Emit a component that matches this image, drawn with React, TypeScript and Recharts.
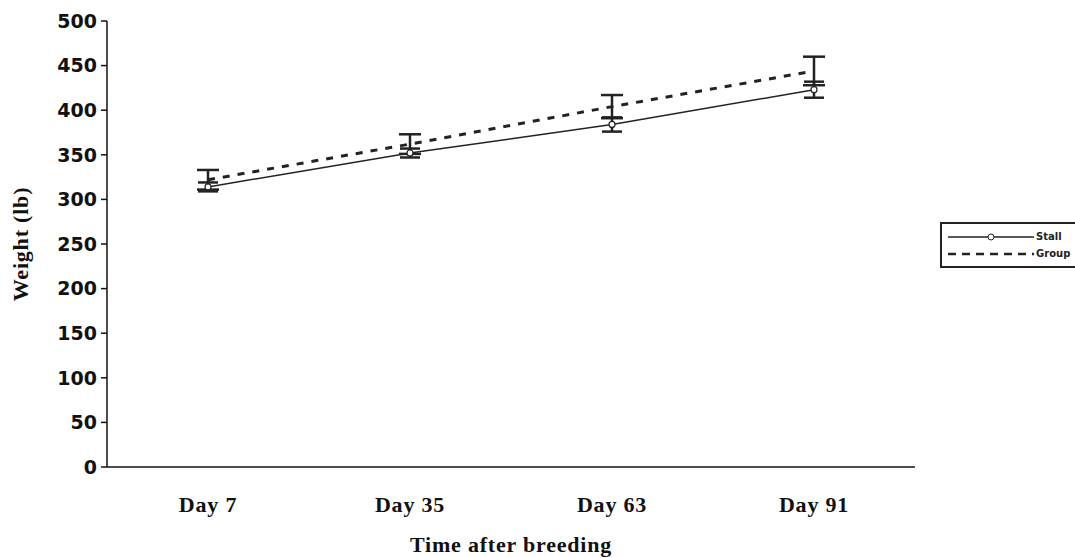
import { LineChart, Line, XAxis, YAxis, ErrorBar } from "recharts";

const days = ["Day 7", "Day 35", "Day 63", "Day 91"];
const stall = [314, 352, 384, 423];
const stallErr = [5, 5, 8, 9];
const group = [322, 362, 404, 444];
const groupErr = [11, 11, 13, 16];
const yTicks = [0, 50, 100, 150, 200, 250, 300, 350, 400, 450, 500];

const data = days.map((day, i) => ({
  day,
  stall: stall[i],
  stallErr: stallErr[i],
  group: group[i],
  groupErr: groupErr[i],
}));

const serif = "'Liberation Serif', 'Times New Roman', serif";
const sans = "'DejaVu Sans', Verdana, sans-serif";
const textStyle = {
  fontSize: 22,
  fontWeight: 700,
  fill: "#111",
  fontFamily: serif,
  letterSpacing: 0.8,
};

// legend box sitting to the right of the plot
const LegendBox = () => (
  <div
    style={{
      position: "absolute",
      left: 940,
      top: 222,
      width: 126,
      padding: "4px 4px",
      border: "2px solid #222",
      background: "#fff",
      fontFamily: sans,
      fontWeight: 700,
      fontSize: 10,
      color: "#222",
    }}
  >
    <div style={{ display: "flex", alignItems: "center", height: 17 }}>
      <svg width={90} height={10}>
        <line x1={2} y1={5} x2={88} y2={5} stroke="#222" strokeWidth={1.5} />
        <circle cx={45} cy={5} r={3} fill="#fff" stroke="#222" />
      </svg>
      <span>Stall</span>
    </div>
    <div style={{ display: "flex", alignItems: "center", height: 17 }}>
      <svg width={90} height={10}>
        <line
          x1={2}
          y1={5}
          x2={88}
          y2={5}
          stroke="#222"
          strokeWidth={2.5}
          strokeDasharray="8 6"
        />
      </svg>
      <span>Group</span>
    </div>
  </div>
);

const App = () => {
  return (
    <div style={{ position: "absolute", left: 0, top: 0, width: 1075, height: 558, background: "#fff" }}>
      <LineChart
        width={1075}
        height={558}
        data={data}
        margin={{ top: 21, right: 160, bottom: 4, left: 0 }}
      >
        <XAxis
          dataKey="day"
          height={87}
          padding={{ left: 101, right: 101 }}
          stroke="#111"
          strokeWidth={1.5}
          tickLine={false}
          tickMargin={23}
          tick={textStyle}
          label={{
            value: "Time after breeding",
            position: "insideBottom",
            offset: 2,
            style: textStyle,
          }}
        />
        <YAxis
          width={107}
          domain={[0, 500]}
          ticks={yTicks}
          interval={0}
          stroke="#111"
          strokeWidth={1.5}
          tickSize={6}
          tickMargin={4}
          tick={{ fontSize: 19, fontWeight: 700, fill: "#111", fontFamily: sans }}
          label={{
            value: "Weight (lb)",
            angle: -90,
            position: "insideLeft",
            offset: 20,
            style: { ...textStyle, textAnchor: "middle" },
          }}
        />
        <Line
          dataKey="stall"
          stroke="#222"
          strokeWidth={1.5}
          dot={{ r: 3, fill: "#fff", stroke: "#222", strokeWidth: 1.2 }}
          isAnimationActive={false}
        >
          <ErrorBar dataKey="stallErr" width={10} stroke="#222" strokeWidth={2.5} />
        </Line>
        <Line
          dataKey="group"
          stroke="#222"
          strokeWidth={3}
          strokeDasharray="7 8"
          dot={false}
          isAnimationActive={false}
        >
          <ErrorBar dataKey="groupErr" width={11} stroke="#222" strokeWidth={2.5} />
        </Line>
      </LineChart>
      <LegendBox />
    </div>
  );
};

export default App;
